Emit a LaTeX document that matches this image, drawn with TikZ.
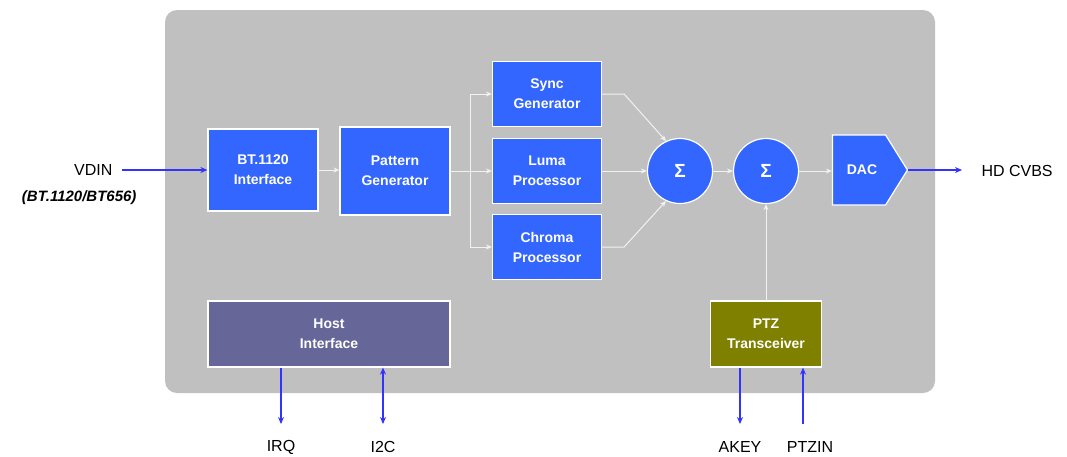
\documentclass[tikz,border=0pt]{standalone}
\usepackage{fontspec}
\setmainfont{Liberation Sans}
\usetikzlibrary{arrows.meta,shapes.symbols}
\definecolor{boxblue}{HTML}{3366FF}
\definecolor{hostblue}{HTML}{666699}
\definecolor{ptzolive}{HTML}{7F7F00}
\definecolor{panelgray}{HTML}{C0C0C0}
\definecolor{wiregray}{HTML}{F2F2F2}
\definecolor{sigblue}{HTML}{3333FF}
\begin{document}
\begin{tikzpicture}[x=1pt,y=-1pt,
    blk/.style={draw=white, line width=1.2pt, fill=boxblue, text=white, align=center,
        font=\fontsize{14}{20}\selectfont\bfseries, inner sep=0pt},
    sumc/.style={draw=white, line width=1.2pt, fill=boxblue, text=white, shape=circle,
        minimum size=65pt, inner sep=0pt, font=\fontsize{19}{19}\selectfont\bfseries},
    wire/.style={draw=wiregray, line width=1pt, -{Stealth[length=6pt,width=5pt]}},
    sig/.style={draw=sigblue, line width=1.8pt, -{Stealth[length=7pt,width=6pt]}},
    pin/.style={font=\fontsize{16}{18}\selectfont}]
    \useasboundingbox (0,0) rectangle (1067,456);
    \fill[panelgray, rounded corners=12pt] (165,10) rectangle (935,393);

    \node[blk, minimum width=110pt, minimum height=82pt] (bt) at (263,170) {BT.1120\\Interface};
    \node[blk, minimum width=110pt, minimum height=88pt] (pat) at (395,171) {Pattern\\Generator};
    \node[blk, minimum width=109pt, minimum height=65pt] (sync) at (547,94) {Sync\\Generator};
    \node[blk, minimum width=109pt, minimum height=65pt] (luma) at (547,171) {Luma\\Processor};
    \node[blk, minimum width=109pt, minimum height=65pt] (chroma) at (547,247) {Chroma\\Processor};
    \node[sumc] (sum1) at (680,171) {Σ};
    \node[sumc] (sum2) at (766,171) {Σ};
    \node[blk, shape=signal, signal to=east, signal pointer angle=116,
        minimum width=75pt, minimum height=70pt] (dac) at (859,170) {\hspace*{6pt}DAC};
    \node[blk, fill=hostblue, minimum width=242pt, minimum height=66pt] (host) at (329,334) {Host\\Interface};
    \node[blk, fill=ptzolive, minimum width=111pt, minimum height=66pt] (ptz) at (766,334) {PTZ\\Transceiver};

    \coordinate (fan) at (470,171);
    \draw[wire, -] (pat) -- (fan);
    \draw[wire] (fan) |- (sync.west);
    \draw[wire] (fan) -- (luma);
    \draw[wire] (fan) |- (chroma.west);
    \draw[wire] (bt) -- (pat.west |- bt);
    \draw[wire] (sync.east) -- ++(22,0) -- (sum1.115);
    \draw[wire] (luma) -- (sum1);
    \draw[wire] (chroma.east) -- ++(22,0) -- (sum1.245);
    \draw[wire] (sum1) -- (sum2);
    \draw[wire] (sum2) -- (sum2 -| dac.west);
    \draw[wire] (ptz) -- (sum2);

    \node[pin, anchor=east] (vdin) at (116,170) {VDIN};
    \node[pin, anchor=east, font=\fontsize{15}{18}\selectfont\bfseries\itshape] (vdinfmt) at (140,198) {(BT.1120/BT656)};
    \node[pin, anchor=west] (cvbs) at (978,171) {HD CVBS};
    \node[pin] (irq) at (281,447) {IRQ};
    \node[pin] (i2c) at (383,447) {I2C};
    \node[pin] (akey) at (740,447) {AKEY};
    \node[pin] (ptzin) at (810,447) {PTZIN};
    \coordinate (vdinstart) at (122,170);
    \coordinate (cvbsend) at (962,170);
    \coordinate (irqend) at (281,424);
    \coordinate (i2cend) at (383,424);
    \coordinate (akeyend) at (740,424);
    \coordinate (ptzinend) at (803,424);

    \draw[sig] (vdinstart) -- (bt.west);
    \draw[sig] (dac.east) -- (cvbsend);
    \draw[sig] (host.south -| irqend) -- (irqend);
    \draw[sig, {Stealth[length=7pt,width=6pt]}-{Stealth[length=7pt,width=6pt]}] (host.south -| i2cend) -- (i2cend);
    \draw[sig] (ptz.south -| akeyend) -- (akeyend);
    \draw[sig] (ptzinend) -- (ptz.south -| ptzinend);
\end{tikzpicture}
\end{document}
